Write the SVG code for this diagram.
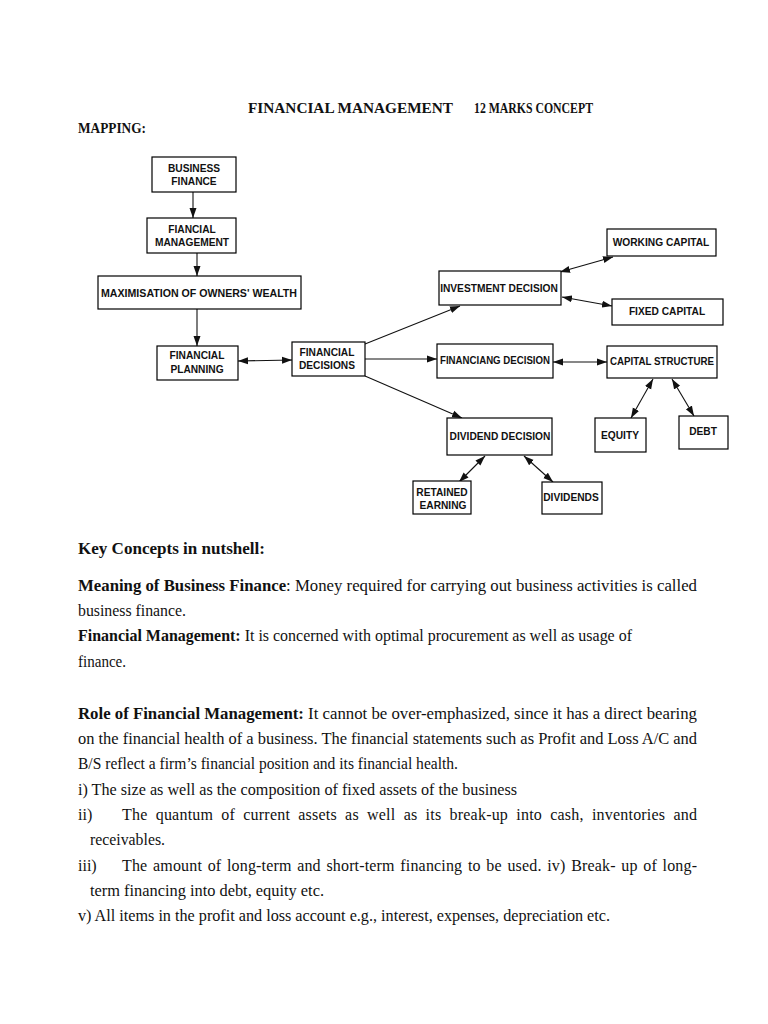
<svg xmlns="http://www.w3.org/2000/svg" width="768" height="1024" viewBox="0 0 768 1024">
<style>
.bx{fill:#fff;stroke:#000;stroke-width:1.2}
.lb{font-family:"Liberation Sans",Arial,sans-serif;font-weight:bold;font-size:10.2px;fill:#111;text-anchor:middle}
.cn{stroke:#111;stroke-width:1.1;fill:none}
.t{font-family:"Liberation Serif","Times New Roman",serif;font-size:16px;fill:#111}
.h{font-family:"Liberation Serif","Times New Roman",serif;font-size:14.5px;font-weight:bold;fill:#111}
.b{font-weight:bold}
</style>
<defs>
<marker id="ah" markerUnits="userSpaceOnUse" markerWidth="10" markerHeight="8" refX="10" refY="4" orient="auto-start-reverse"><path d="M0,0.5 L10,4 L0,7.5 z" fill="#111"/></marker>
</defs>
<rect width="768" height="1024" fill="#fff"/>

<text class="h" y="113"><tspan x="248" textLength="205" lengthAdjust="spacingAndGlyphs">FINANCIAL MANAGEMENT</tspan><tspan x="474" textLength="119" lengthAdjust="spacingAndGlyphs">12 MARKS CONCEPT</tspan></text>
<text class="h" x="78" y="133" textLength="68" lengthAdjust="spacingAndGlyphs">MAPPING:</text>

<g id="connectors">
<line class="cn" x1="193" y1="192" x2="193" y2="218" marker-end="url(#ah)"/>
<line class="cn" x1="197" y1="253" x2="197" y2="276" marker-end="url(#ah)"/>
<line class="cn" x1="197" y1="308" x2="197" y2="346" marker-end="url(#ah)"/>
<line class="cn" x1="238" y1="361" x2="292" y2="360" marker-start="url(#ah)" marker-end="url(#ah)"/>
<line class="cn" x1="365" y1="344" x2="460" y2="306" marker-end="url(#ah)"/>
<line class="cn" x1="365" y1="359" x2="437" y2="359" marker-end="url(#ah)"/>
<line class="cn" x1="365" y1="376" x2="462" y2="418" marker-end="url(#ah)"/>
<line class="cn" x1="560" y1="272" x2="613" y2="257" marker-start="url(#ah)" marker-end="url(#ah)"/>
<line class="cn" x1="562" y1="297" x2="612" y2="306" marker-start="url(#ah)" marker-end="url(#ah)"/>
<line class="cn" x1="553" y1="362" x2="607" y2="362" marker-start="url(#ah)" marker-end="url(#ah)"/>
<line class="cn" x1="653" y1="379" x2="631" y2="418" marker-start="url(#ah)" marker-end="url(#ah)"/>
<line class="cn" x1="672" y1="379" x2="694" y2="416" marker-start="url(#ah)" marker-end="url(#ah)"/>
<line class="cn" x1="485" y1="456" x2="459" y2="482" marker-start="url(#ah)" marker-end="url(#ah)"/>
<line class="cn" x1="524" y1="456" x2="553" y2="482" marker-start="url(#ah)" marker-end="url(#ah)"/>
</g>

<g id="business-finance"><rect class="bx" x="152" y="157" width="84" height="35"/><text class="lb" x="194" y="172">BUSINESS</text><text class="lb" x="194" y="185">FINANCE</text></g>
<g id="financial-management"><rect class="bx" x="147" y="218" width="89" height="35"/><text class="lb" x="192" y="233">FIANCIAL</text><text class="lb" x="192" y="246">MANAGEMENT</text></g>
<g id="maximisation"><rect class="bx" x="98" y="276" width="203" height="33"/><text class="lb" x="199" y="297" textLength="196" lengthAdjust="spacingAndGlyphs">MAXIMISATION OF OWNERS' WEALTH</text></g>
<g id="financial-planning"><rect class="bx" x="157" y="346" width="81" height="34"/><text class="lb" x="197" y="359">FINANCIAL</text><text class="lb" x="197" y="373">PLANNING</text></g>
<g id="financial-decisions"><rect class="bx" x="292" y="342" width="73" height="34"/><text class="lb" x="327" y="356">FINANCIAL</text><text class="lb" x="327" y="369">DECISIONS</text></g>
<g id="investment-decision"><rect class="bx" x="439" y="271" width="122" height="34"/><text class="lb" x="499" y="292">INVESTMENT DECISION</text></g>
<g id="working-capital"><rect class="bx" x="607" y="229" width="109" height="27"/><text class="lb" x="661" y="246">WORKING CAPITAL</text></g>
<g id="fixed-capital"><rect class="bx" x="612" y="299" width="111" height="26"/><text class="lb" x="667" y="315">FIXED CAPITAL</text></g>
<g id="financiang-decision"><rect class="bx" x="437" y="344" width="116" height="34"/><text class="lb" x="495" y="364" textLength="110" lengthAdjust="spacingAndGlyphs">FINANCIANG DECISION</text></g>
<g id="capital-structure"><rect class="bx" x="607" y="346" width="110" height="32"/><text class="lb" x="662" y="365" textLength="104" lengthAdjust="spacingAndGlyphs">CAPITAL STRUCTURE</text></g>
<g id="equity"><rect class="bx" x="595" y="418" width="51" height="34"/><text class="lb" x="620" y="439">EQUITY</text></g>
<g id="debt"><rect class="bx" x="679" y="416" width="49" height="33"/><text class="lb" x="703" y="435">DEBT</text></g>
<g id="dividend-decision"><rect class="bx" x="447" y="418" width="105" height="37"/><text class="lb" x="500" y="440">DIVIDEND DECISION</text></g>
<g id="retained-earning"><rect class="bx" x="413" y="481" width="58" height="33"/><text class="lb" x="442" y="496">RETAINED</text><text class="lb" x="443" y="509">EARNING</text></g>
<g id="dividends"><rect class="bx" x="542" y="482" width="60" height="32"/><text class="lb" x="571" y="501">DIVIDENDS</text></g>

<g id="body">
<text class="t b" x="78" y="554" textLength="187" lengthAdjust="spacingAndGlyphs">Key Concepts in nutshell:</text>
<text class="t" x="78" y="591" textLength="619" lengthAdjust="spacingAndGlyphs"><tspan class="b">Meaning of Business Finance</tspan>:  Money required for carrying out business activities is called</text>
<text class="t" x="78" y="616" textLength="108" lengthAdjust="spacingAndGlyphs">business finance.</text>
<text class="t" x="78" y="641" textLength="554" lengthAdjust="spacingAndGlyphs"><tspan class="b">Financial Management:</tspan> It is concerned with optimal procurement as well as usage of</text>
<text class="t" x="78" y="667" textLength="48" lengthAdjust="spacingAndGlyphs">finance.</text>
<text class="t" x="78" y="719" textLength="619" lengthAdjust="spacingAndGlyphs"><tspan class="b">Role of Financial Management:</tspan> It cannot be over-emphasized, since it has a direct bearing</text>
<text class="t" x="78" y="744" textLength="619" lengthAdjust="spacingAndGlyphs">on the financial health of a business.  The financial statements such as Profit and Loss A/C and</text>
<text class="t" x="78" y="769" textLength="380" lengthAdjust="spacingAndGlyphs">B/S reflect a firm’s financial position and its financial health.</text>
<text class="t" x="78" y="795" textLength="439" lengthAdjust="spacingAndGlyphs">i) The size as well as the composition of fixed assets of the business</text>
<text class="t" x="78" y="820">ii)</text>
<text class="t" x="122" y="820" word-spacing="4" textLength="575" lengthAdjust="spacing">The quantum of current assets as well as its break-up into cash, inventories and</text>
<text class="t" x="90" y="845" textLength="75" lengthAdjust="spacingAndGlyphs">receivables.</text>
<text class="t" x="78" y="871">iii)</text>
<text class="t" x="122" y="871" word-spacing="1.5" textLength="575" lengthAdjust="spacing">The amount of long-term and short-term financing to be used. iv) Break- up of long-</text>
<text class="t" x="90" y="896" textLength="234" lengthAdjust="spacingAndGlyphs">term financing into debt, equity etc.</text>
<text class="t" x="78" y="921" textLength="532" lengthAdjust="spacingAndGlyphs">v) All items in the profit and loss account e.g., interest, expenses, depreciation etc.</text>
</g>
</svg>
